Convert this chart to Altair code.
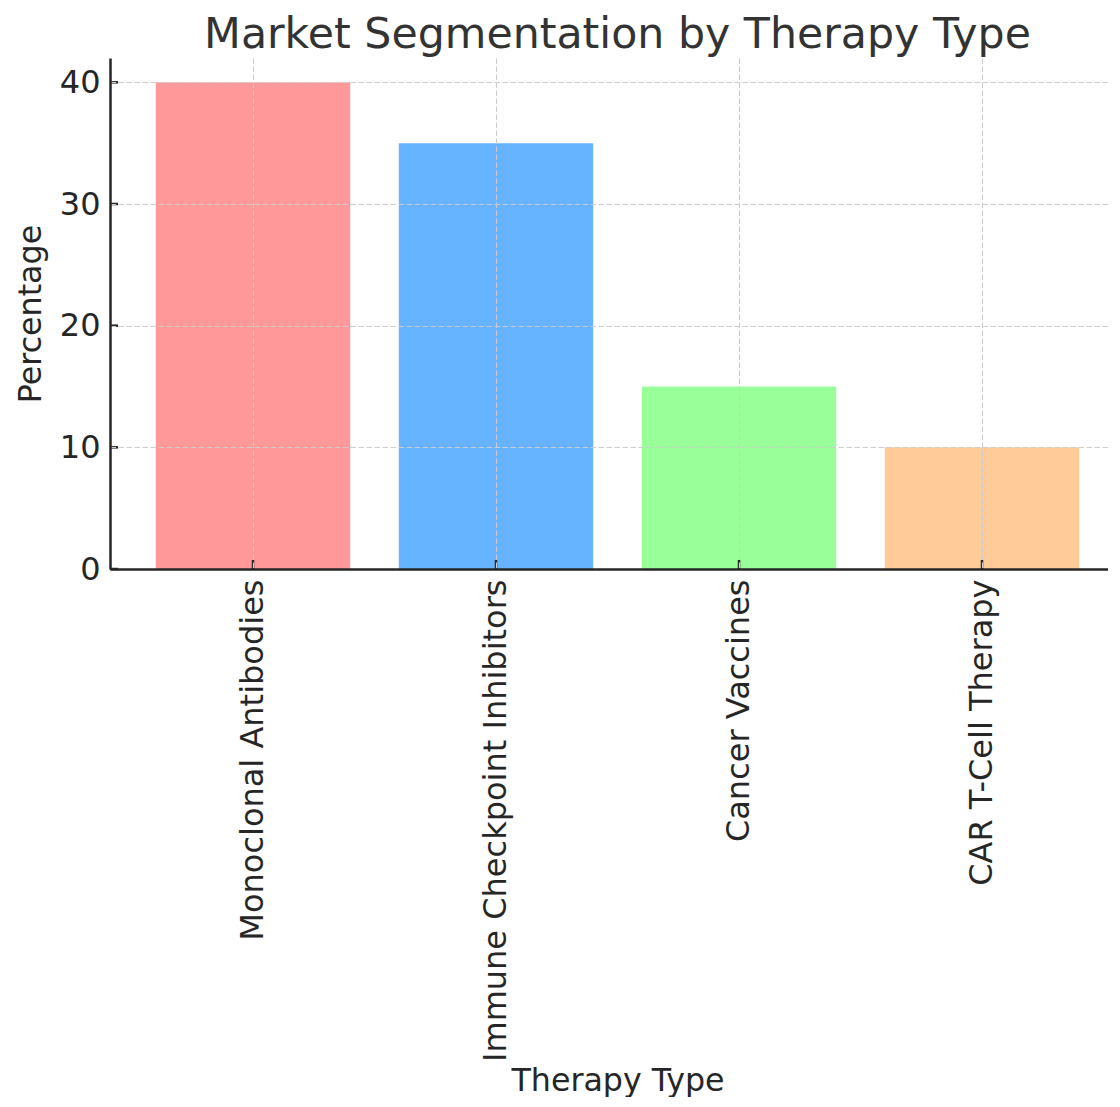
import altair as alt
import pandas as pd

therapies = ["Monoclonal Antibodies", "Immune Checkpoint Inhibitors", "Cancer Vaccines", "CAR T-Cell Therapy"]
percentages = [40, 35, 15, 10]
colors = ["#ff9999", "#66b3ff", "#99ff99", "#ffcc99"]
y_ticks = [0, 10, 20, 30, 40]

df = pd.DataFrame({"Therapy Type": therapies, "Percentage": percentages, "color": colors})
tick_df = pd.DataFrame({"Percentage": y_ticks})

W, H = 998, 511
FONT = "DejaVu Sans"
TXT = "#262626"

xscale = alt.Scale(domain=therapies, paddingInner=0.2, paddingOuter=0.1535, align=0.614)
yscale = alt.Scale(domain=[0, 42], nice=False, zero=True)

grid_common = dict(grid=True, gridColor="#cccccc", gridDash=[5.5, 2.5], gridWidth=1.1,
                   domainColor=TXT, domainWidth=2.5, tickSize=0,
                   labelFont=FONT, labelFontSize=32, labelColor=TXT,
                   titleFont=FONT, titleFontSize=31.7, titleColor=TXT, titleFontWeight="normal",
                   zindex=1)

x_axis = alt.Axis(title="Therapy Type", bandPosition=0.5, labelAngle=270,
                  labelAlign="right", labelBaseline="middle", labelPadding=10,
                  labelLimit=1000, titleX=507.5, titleY=521, titleBaseline="alphabetic",
                  **grid_common)
y_axis = alt.Axis(title="Percentage", values=y_ticks, labelPadding=10,
                  titlePadding=12, **grid_common)

bars = alt.Chart(df).mark_bar().encode(
    x=alt.X("Therapy Type:N", scale=xscale, sort=therapies, axis=x_axis),
    y=alt.Y("Percentage:Q", scale=yscale, axis=y_axis),
    color=alt.Color("color:N", scale=None),
)

ytick = alt.Chart(tick_df).mark_rule(color=TXT, strokeWidth=2.5).encode(
    y=alt.Y("Percentage:Q", scale=yscale, axis=y_axis),
    x=alt.value(0), x2=alt.value(8),
)
xtick = alt.Chart(df).mark_rule(color=TXT, strokeWidth=2.5).encode(
    x=alt.X("Therapy Type:N", scale=xscale, sort=therapies, axis=x_axis),
    y=alt.value(H), y2=alt.value(H - 9),
)

chart = alt.layer(bars, ytick, xtick).properties(
    width=W, height=H,
    title=alt.TitleParams("Market Segmentation by Therapy Type", font=FONT, fontSize=42.7,
                          color="#333333", fontWeight="normal", anchor="middle",
                          frame="group", offset=1, dx=8.5),
    autosize=alt.AutoSizeParams(type="none"),
    padding={"left": 102, "top": 50, "right": 0, "bottom": 528},
).configure_view(stroke=None)

chart.save("out.html", embed_options={"renderer": "svg", "actions": False})
